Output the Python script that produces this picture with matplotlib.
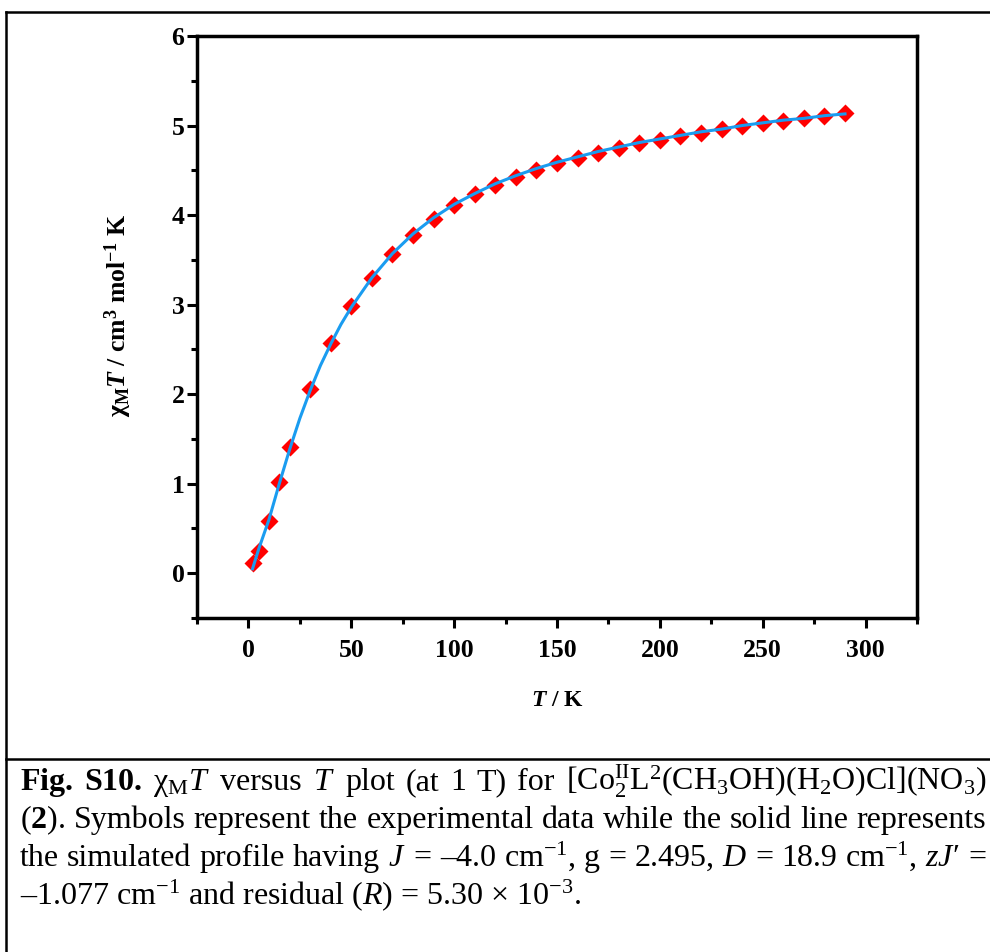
import numpy as np
import matplotlib
matplotlib.use('Agg')
import matplotlib.pyplot as plt
from matplotlib.lines import Line2D
from matplotlib.ticker import MultipleLocator

plt.rcParams['font.family'] = ['Liberation Serif', 'DejaVu Serif']
plt.rcParams['mathtext.fontset'] = 'custom'
plt.rcParams['mathtext.rm'] = 'Liberation Serif'
plt.rcParams['mathtext.it'] = 'Liberation Serif:italic'
plt.rcParams['mathtext.bf'] = 'Liberation Serif:bold'
plt.rcParams['mathtext.bfit'] = 'Liberation Serif:italic:bold'

# experimental chi_M T (cm3 mol-1 K) vs T (K)
T_exp = [2, 5, 10, 15, 20, 30, 40, 50, 60, 70, 80, 90, 100, 110, 120, 130, 140,
         150, 160, 170, 180, 190, 200, 210, 220, 230, 240, 250, 260, 270, 280, 290]
chiT_exp = [0.11, 0.25, 0.58, 1.02, 1.41, 2.06, 2.57, 2.98, 3.30, 3.56, 3.78, 3.96,
            4.11, 4.23, 4.34, 4.43, 4.50, 4.58, 4.64, 4.69, 4.75, 4.80, 4.84, 4.88,
            4.92, 4.96, 4.99, 5.03, 5.05, 5.08, 5.11, 5.14]

# simulated profile
T_fit = [2, 5, 10, 15, 20, 25, 30, 35, 40, 45, 50, 60, 70, 80, 90, 100, 110, 120,
         130, 140, 150, 160, 170, 180, 190, 200, 210, 220, 230, 240, 250, 260,
         270, 280, 290]
chiT_fit = [0.05, 0.27, 0.60, 1.00, 1.38, 1.73, 2.04, 2.32, 2.56, 2.78, 2.97, 3.30,
            3.57, 3.79, 3.97, 4.12, 4.24, 4.35, 4.44, 4.52, 4.59, 4.65, 4.71, 4.76,
            4.81, 4.85, 4.89, 4.93, 4.96, 5.00, 5.03, 5.06, 5.08, 5.11, 5.13]

W, H = 990, 952
fig = plt.figure(figsize=(W / 100, H / 100), dpi=100)

ax = fig.add_axes([197 / W, 1 - 618 / H, (917 - 197) / W, (618 - 36) / H])
ax.plot(T_exp, chiT_exp, 'D', color='#ff0000', ms=9, mec='none', zorder=2)
ax.plot(T_fit, chiT_fit, '-', color='#1a9cf0', lw=2.2, zorder=3)

ax.set_xlim(-25, 325)
ax.set_ylim(-0.5, 6)
ax.set_xticks([0, 50, 100, 150, 200, 250, 300])
ax.set_yticks([0, 1, 2, 3, 4, 5, 6])
ax.xaxis.set_minor_locator(MultipleLocator(25))
ax.yaxis.set_minor_locator(MultipleLocator(0.5))
for s in ax.spines.values():
    s.set_linewidth(2.5)
ax.tick_params(which='major', direction='out', length=7, width=2.2)
ax.tick_params(which='minor', direction='out', length=4, width=2.2)
ax.tick_params(axis='y', pad=2)
ax.tick_params(axis='x', pad=8)
for lab in ax.get_xticklabels() + ax.get_yticklabels():
    lab.set_fontsize(18.5)
    lab.set_fontweight('bold')

ax.set_xlabel(r'$\mathbfit{T}\mathbf{\ /\ K}$', fontsize=17, labelpad=20)
ax.set_ylabel(r'$\mathbf{\chi}_{\mathbf{M}}\mathbfit{T}\mathbf{\ /\ cm^{3}\ mol^{-1}\ K}$',
              fontsize=18.5)
ax.yaxis.set_label_coords(-0.088, 0.521)

# frame lines around figure and caption
fig.add_artist(Line2D([6 / W, 1], [1 - 12 / H, 1 - 12 / H], color='black', lw=1.8))
fig.add_artist(Line2D([6 / W, 6 / W], [0, 1 - 12 / H], color='black', lw=1.8))
fig.add_artist(Line2D([6 / W, 1], [1 - 759 / H, 1 - 759 / H], color='black', lw=1.8))

# caption, justified lines
cap_lines = [
    [r'$\mathbf{Fig.}$', r'$\mathbf{S10.}$', r'$\mathrm{\chi}_{\rm M}T$', 'versus', r'$T$',
     'plot', '(at', '1', 'T)', 'for',
     r'[Co$^{\rm II}_{2}$L$^{2}$(CH$_{3}$OH)(H$_{2}$O)Cl](NO$_{3}$)'],
    [r'($\mathbf{2}$).', 'Symbols', 'represent', 'the', 'experimental', 'data', 'while',
     'the', 'solid', 'line', 'represents'],
    ['the', 'simulated', 'profile', 'having', r'$J$', '=', '–4.0', r'cm$^{-1}$,', 'g',
     '=', '2.495,', r'$D$', '=', '18.9', r'cm$^{-1}$,', r'$zJ$′', '='],
]
last_line = r'–1.077 cm$^{-1}$ and residual ($R$) = 5.30 × 10$^{-3}$.'
cap_size = 23
x0, x1 = 20, 986
baselines = [790, 828, 866, 904]

renderer = fig.canvas.get_renderer()
for words, yb in zip(cap_lines, baselines):
    texts = [fig.text(0, 1 - yb / H, w, fontsize=cap_size, va='baseline', ha='left')
             for w in words]
    widths = [t.get_window_extent(renderer).width for t in texts]
    gap = (x1 - x0 - sum(widths)) / (len(words) - 1)
    x = x0
    for t, w in zip(texts, widths):
        t.set_x(x / W)
        x += w + gap
fig.text(x0 / W, 1 - baselines[3] / H, last_line, fontsize=cap_size, va='baseline', ha='left')

fig.savefig('out.png', dpi=100)
